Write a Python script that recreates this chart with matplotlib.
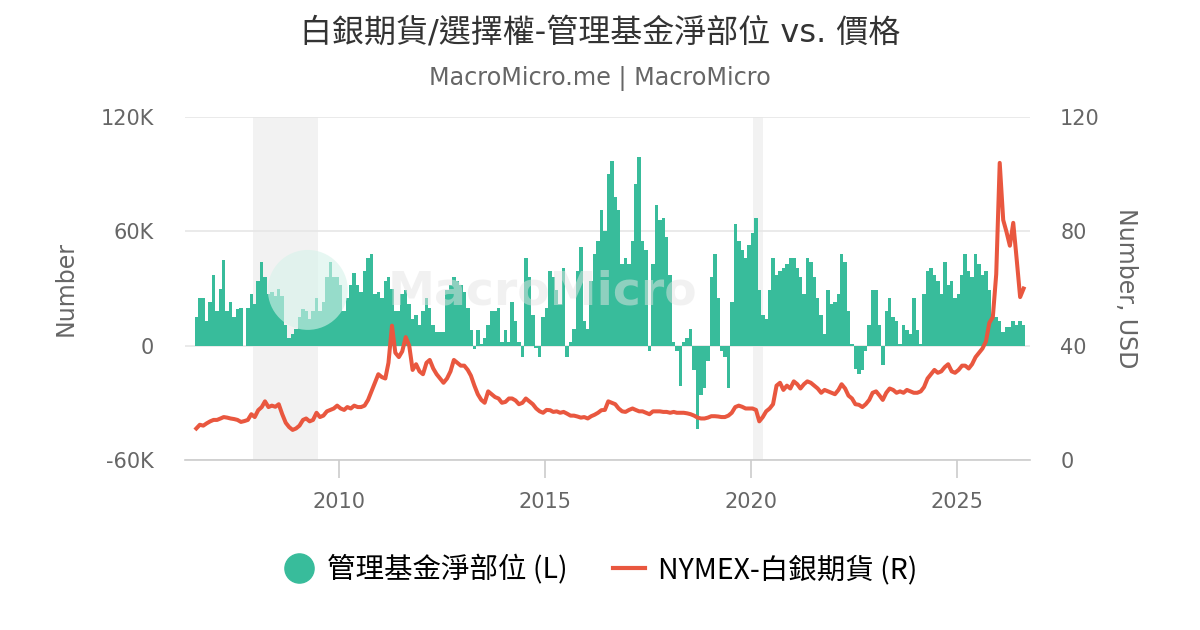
import numpy as np
import pandas as pd
import matplotlib
matplotlib.use("Agg")
import matplotlib.pyplot as plt
import matplotlib.dates as mdates
from matplotlib.lines import Line2D
from matplotlib.patches import Ellipse

plt.rcParams['font.family'] = ['DejaVu Sans', 'Noto Sans CJK TC']

# monthly readings, Jul 2006 .. Aug 2026
months = pd.date_range('2006-07-01', periods=242, freq='MS')

# managed money net position (thousand contracts)
net_pos = [
    15, 25, 25, 13, 23, 37, 18, 30, 45, 18, 23, 15,
    19, 20, 0, 20, 27, 22, 34, 44, 36, 27, 28, 26,
    30, 26, 11, 4, 6, 9, 15, 19, 18, 14, 18, 25,
    18, 23, 36, 44, 36, 36, 32, 18, 25, 32, 38, 32,
    28, 39, 46, 48, 27, 28, 25, 34, 36, 30, 18, 18,
    27, 29, 22, 14, 16, 11, 18, 25, 20, 11, 7, 7,
    7, 29, 32, 36, 34, 32, 28, 20, 8, -2, 8, 1,
    4, 11, 18, 18, 20, 2, 8, 2, 23, 13, 2, -6,
    46, 36, 16, -1, -6, 15, 20, 39, 36, 29, 22, 41,
    -6, 2, 9, 39, 52, 13, 9, 34, 48, 55, 71, 60,
    90, 97, 78, 71, 43, 46, 43, 55, 85, 99, 55, 50,
    -3, 43, 74, 66, 67, 57, 37, 2, -3, -21, 2, 4,
    9, -13, -44, -26, -22, -8, 36, 48, 25, -3, -6, -22,
    23, 64, 55, 50, 46, 53, 59, 67, 29, 16, 14, 29,
    46, 37, 39, 41, 43, 46, 46, 41, 36, 27, 46, 44,
    36, 25, 16, 6, 29, 22, 23, 27, 48, 44, 18, 1,
    -12, -15, -13, -3, 11, 29, 29, 11, -10, 18, 25, 15,
    13, 1, 11, 8, 6, 25, 8, 1, 27, 39, 41, 37,
    34, 27, 44, 32, 34, 25, 27, 37, 48, 39, 36, 48,
    43, 37, 39, 29, 15, 15, 13, 7, 10, 10, 13, 11,
    13, 11,
]

# NYMEX silver price (USD)
price = [
    11.0, 12.3, 12.0, 12.8, 13.5, 14.0, 14.0, 14.5, 15.0, 14.8, 14.5, 14.3,
    14.0, 13.3, 13.6, 14.0, 16.0, 15.0, 17.4, 18.5, 20.5, 18.5, 19.0, 18.6,
    19.5, 16.0, 13.0, 11.5, 10.5, 11.0, 12.0, 14.0, 14.5, 13.5, 14.0, 16.5,
    15.0, 15.5, 17.0, 17.5, 18.0, 19.0, 18.0, 17.5, 18.5, 18.0, 19.0, 18.5,
    18.5, 19.0, 21.0, 24.0, 27.0, 30.0, 29.0, 28.5, 34.0, 47.0, 37.5, 36.0,
    38.0, 43.0, 40.0, 31.5, 33.5, 31.0, 30.0, 34.0, 35.0, 32.0, 30.0, 28.5,
    27.0, 28.5, 31.0, 35.0, 34.0, 33.0, 33.0, 31.5, 29.5, 26.0, 23.0, 21.0,
    20.0, 24.0, 23.0, 22.0, 21.5, 20.0, 20.3, 21.5, 21.5, 20.8, 19.5, 20.0,
    21.5, 20.5, 19.5, 18.0, 17.0, 16.5, 17.5, 17.4, 16.8, 17.0, 16.5, 16.8,
    16.2, 15.5, 15.5, 15.2, 14.8, 15.0, 14.5, 15.3, 15.8, 16.5, 17.4, 17.5,
    20.5, 20.0, 19.5, 18.0, 17.0, 16.8, 17.5, 18.0, 17.5, 17.0, 17.0, 16.5,
    16.0, 17.0, 17.0, 17.0, 16.8, 16.8, 16.5, 16.8, 16.5, 16.5, 16.5, 16.3,
    16.0, 15.5, 14.8, 14.5, 14.5, 14.8, 15.3, 15.3, 15.2, 15.0, 15.0, 15.5,
    16.5, 18.5, 19.0, 18.6, 18.0, 18.0, 18.0, 17.5, 13.5, 15.0, 17.0, 18.0,
    19.5, 26.0, 27.0, 24.5, 26.0, 25.0, 27.5, 26.5, 25.0, 26.5, 27.5, 27.0,
    26.0, 25.0, 23.5, 24.5, 24.0, 23.5, 23.0, 24.5, 26.5, 25.0, 22.5, 21.5,
    19.5, 19.3, 18.5, 19.5, 21.0, 23.5, 24.0, 22.5, 21.0, 23.5, 25.0, 24.5,
    23.5, 24.0, 23.5, 24.5, 24.0, 23.5, 23.5, 24.0, 25.5, 28.5, 30.0, 31.5,
    30.5, 31.0, 32.5, 33.5, 31.0, 30.5, 31.5, 33.0, 33.0, 32.0, 33.5, 36.0,
    37.5, 39.0, 41.5, 48.0, 50.0, 65.0, 104.0, 84.0, 80.0, 75.0, 83.0, 70.0,
    57.0, 60.0,
]

# recession shading
recessions = [('2007-12-01', '2009-07-01'), ('2020-01-20', '2020-04-15')]

green = '#38bc9b'
red = '#e9573f'
grey = '#666666'

fig = plt.figure(figsize=(12, 6.3), dpi=100)
ax = fig.add_axes([0.154, 0.27, 0.704, 0.544])
ax2 = ax.twinx()

for a, b in recessions:
    ax.axvspan(pd.Timestamp(a), pd.Timestamp(b), color='#f2f2f2', zorder=0, lw=0)

ax.bar(months + pd.Timedelta(days=15), np.array(net_pos) * 1000, width=31,
       color=green, lw=0, zorder=2)
ax2.plot(months + pd.Timedelta(days=15), price, color=red, lw=2.9, zorder=3,
         solid_joinstyle='round')

ax.set_ylim(-60000, 120000)
ax.set_yticks([-60000, 0, 60000, 120000])
ax.set_yticklabels(['-60K', '0', '60K', '120K'])
ax2.set_ylim(0, 120)
ax2.set_yticks([0, 40, 80, 120])
ax.set_xlim(pd.Timestamp('2006-04-05'), pd.Timestamp('2026-10-08'))
ax.xaxis.set_major_locator(mdates.YearLocator(5))
ax.xaxis.set_major_formatter(mdates.DateFormatter('%Y'))

ax.grid(axis='y', color='#e6e6e6', lw=1.2, zorder=1)
ax.set_axisbelow(True)
for a in (ax, ax2):
    for s in ('left', 'right', 'top', 'bottom'):
        a.spines[s].set_visible(False)
ax.spines['bottom'].set_visible(True)
ax.spines['bottom'].set_color('#cccccc')
ax.spines['bottom'].set_linewidth(1.2)

ax.tick_params(axis='x', colors='#cccccc', length=13, width=1.2, labelcolor=grey,
               labelsize=15, pad=10)
ax.tick_params(axis='y', length=0, labelcolor=grey, labelsize=15, pad=22)
ax2.tick_params(axis='y', length=0, labelcolor=grey, labelsize=15, pad=22)

ax.set_ylabel('Number', color=grey, fontsize=17)
ax.yaxis.set_label_coords(-0.127, 0.5)
ax2.set_ylabel('Number, USD', color=grey, fontsize=17, rotation=270, va='center')
ax2.yaxis.set_label_coords(1.114, 0.5)

# faint watermark
ax2.add_patch(Ellipse((0.1456, 0.496), 80 / 845, 80 / 343, transform=ax.transAxes,
                      color='#d6f3ea', alpha=0.6, lw=0, zorder=4))
ax2.text(0.24, 0.49, 'MacroMicro', transform=ax.transAxes, fontsize=34,
         color='#e4e4e4', alpha=0.5, va='center', zorder=4, fontweight='bold')

fig.text(0.5, 0.948, '白銀期貨/選擇權-管理基金淨部位 vs. 價格', ha='center', va='center',
         fontsize=23, color='#333333')
fig.text(0.5, 0.876, 'MacroMicro.me | MacroMicro', ha='center', va='center',
         fontsize=17.2, color=grey)

handles = [
    Line2D([], [], marker='o', ls='', color=green, markersize=21),
    Line2D([], [], color=red, lw=3),
]
fig.legend(handles, ['管理基金淨部位 (L)', 'NYMEX-白銀期貨 (R)'], loc='center',
           bbox_to_anchor=(0.5, 0.095), ncol=2, frameon=False,
           prop={'family': ['Noto Sans CJK TC'], 'size': 20.5}, handlelength=1.1,
           columnspacing=1.6, handletextpad=0.45)

fig.savefig('out.png', dpi=100)
